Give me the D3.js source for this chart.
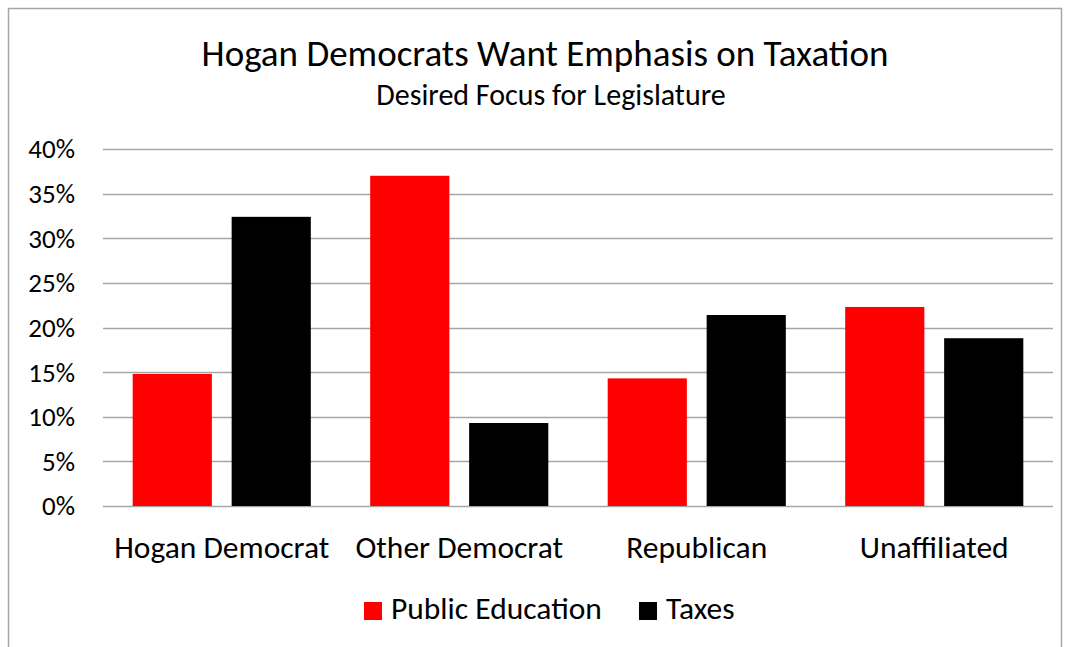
<!DOCTYPE html>
<html>
<head>
<meta charset="utf-8">
<script src="https://cdn.jsdelivr.net/npm/d3@7"></script>
<style>
  body { margin: 0; background: #fff; }
  text { font-family: Calibri, Carlito, "Open Sans", "Liberation Sans", sans-serif; fill: #000; }
</style>
</head>
<body>
<div id="chart"></div>
<script>
// Chart data
const categories = ["Hogan Democrat", "Other Democrat", "Republican", "Unaffiliated"];
const seriesNames = ["Public Education", "Taxes"];
const publicEducation = [14.8, 37.0, 14.3, 22.3];
const taxes = [32.4, 9.3, 21.4, 18.8];
const yTicks = [0, 5, 10, 15, 20, 25, 30, 35, 40];
const colors = ["#ff0000", "#000000"];

const width = 1071;
const height = 647;
const margin = { top: 149, right: 18, bottom: 141, left: 103 };

const svg = d3.select("#chart").append("svg")
    .attr("width", width)
    .attr("height", height);

// Outer chart border
svg.append("rect")
    .attr("x", 8.5).attr("y", 8.5)
    .attr("width", 1053).attr("height", 660)
    .attr("fill", "none")
    .attr("stroke", "#a6a6a6")
    .attr("stroke-width", 1.5);

// Title and subtitle
svg.append("text")
    .attr("x", 545).attr("y", 66)
    .attr("text-anchor", "middle")
    .style("font-size", "37px")
    .text("Hogan Democrats Want Emphasis on Taxation");

svg.append("text")
    .attr("x", 551).attr("y", 105)
    .attr("text-anchor", "middle")
    .style("font-size", "30px")
    .text("Desired Focus for Legislature");

const x0 = d3.scaleBand()
    .domain(categories)
    .range([margin.left, width - margin.right])
    .paddingInner(0.25)
    .paddingOuter(0.125);

const x1 = d3.scaleBand()
    .domain(seriesNames)
    .range([0, x0.bandwidth()])
    .paddingInner(0.2);

const y = d3.scaleLinear()
    .domain([0, 40])
    .range([height - margin.bottom, margin.top]);

// Gridlines
svg.append("g")
    .selectAll("line")
    .data(yTicks)
    .enter().append("line")
    .attr("x1", margin.left)
    .attr("x2", width - margin.right)
    .attr("y1", d => Math.round(y(d)) + 0.5)
    .attr("y2", d => Math.round(y(d)) + 0.5)
    .attr("stroke", "#a6a6a6")
    .attr("stroke-width", 1.5);

// Y tick labels
svg.append("g")
    .selectAll("text")
    .data(yTicks)
    .enter().append("text")
    .attr("x", 75)
    .attr("y", d => y(d))
    .attr("dy", "0.35em")
    .attr("text-anchor", "end")
    .style("font-size", "27px")
    .text(d => d + "%");

// Bars
const rows = categories.map((c, i) => ({
    category: c,
    values: [publicEducation[i], taxes[i]]
}));

const groups = svg.append("g")
    .selectAll("g")
    .data(rows)
    .enter().append("g")
    .attr("transform", d => `translate(${x0(d.category)},0)`);

groups.selectAll("rect")
    .data(d => d.values.map((v, j) => ({ series: seriesNames[j], value: v, color: colors[j] })))
    .enter().append("rect")
    .attr("x", d => x1(d.series))
    .attr("y", d => y(d.value))
    .attr("width", x1.bandwidth())
    .attr("height", d => y(0) - y(d.value))
    .attr("fill", d => d.color);

// Category labels
svg.append("g")
    .selectAll("text")
    .data(categories)
    .enter().append("text")
    .attr("x", d => x0(d) + x0.bandwidth() / 2)
    .attr("y", 558)
    .attr("text-anchor", "middle")
    .style("font-size", "31.5px")
    .text(d => d);

// Legend
const legendItems = [
    { name: seriesNames[0], color: colors[0], x: 364 },
    { name: seriesNames[1], color: colors[1], x: 639 }
];

const legend = svg.append("g")
    .selectAll("g")
    .data(legendItems)
    .enter().append("g")
    .attr("transform", d => `translate(${d.x},602)`);

legend.append("rect")
    .attr("width", 18).attr("height", 18)
    .attr("fill", d => d.color);

legend.append("text")
    .attr("x", 27).attr("y", 17)
    .style("font-size", "31.5px")
    .text(d => d.name);
</script>
</body>
</html>
